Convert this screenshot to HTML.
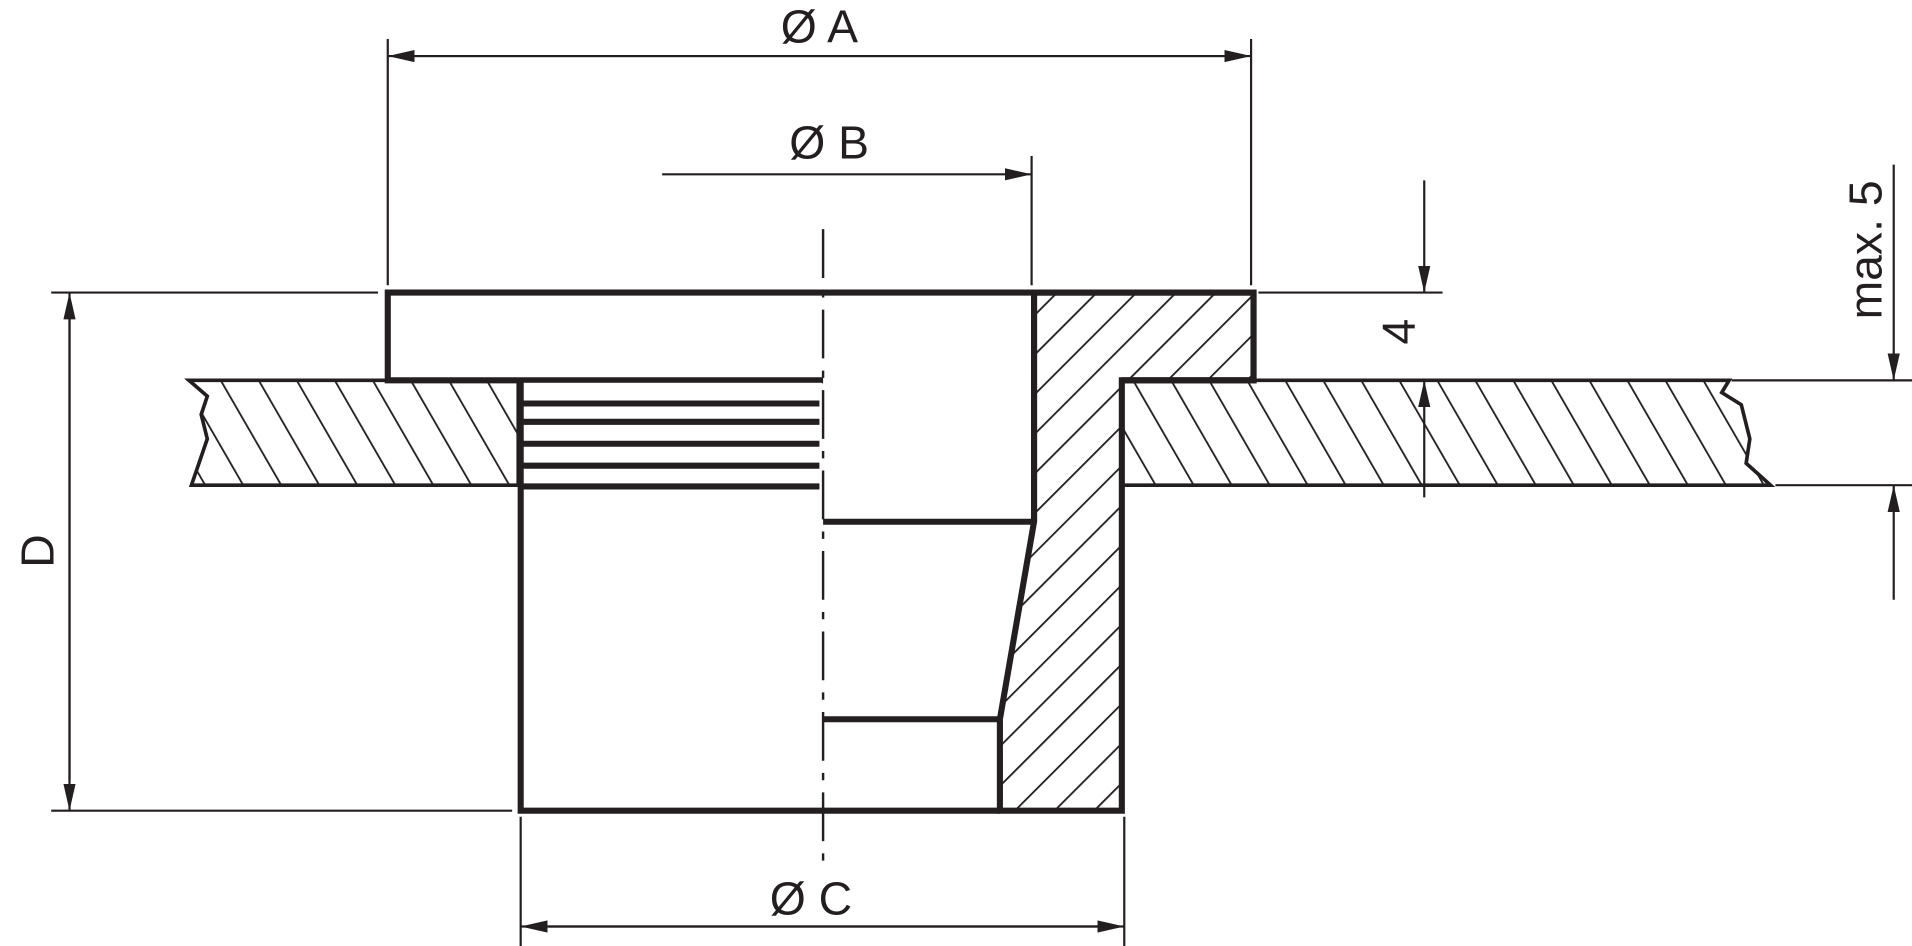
<!DOCTYPE html>
<html><head><meta charset="utf-8"><style>html,body{margin:0;padding:0;background:#fff}svg{display:block}</style></head>
<body>
<svg width="1912" height="946" viewBox="0 0 1568 776" preserveAspectRatio="none" xmlns="http://www.w3.org/2000/svg" font-family="'Liberation Sans',sans-serif">
<defs>
<pattern id="hb" patternUnits="userSpaceOnUse" width="27" height="27" patternTransform="rotate(-30)">
<line x1="0" y1="0" x2="0" y2="27" stroke="#231f20" stroke-width="3"/></pattern>
<pattern id="hf" patternUnits="userSpaceOnUse" width="23" height="23" patternTransform="rotate(45)">
<line x1="0" y1="0" x2="0" y2="23" stroke="#231f20" stroke-width="3"/></pattern>
<marker id="ar" markerWidth="22" markerHeight="10" refX="22" refY="5" orient="auto" markerUnits="userSpaceOnUse">
<path d="M0,0 L22,5 L0,10 Z" fill="#231f20"/></marker>
</defs>
<g stroke="#231f20" fill="none">
<path d="M155,312 L425,312 L425,398 L157,398 L170,360 L165,340 L170,325 Z" fill="url(#hb)" stroke-width="3"/>
<path d="M920,312 L1418,312 L1412,322 L1428,332 L1435,360 L1432,380 L1452,398 L920,398 Z" fill="url(#hb)" stroke-width="3"/>
<!-- wall -->
<path d="M848,240 L1028,240 L1028,312 L920,312 L920,665 L820,665 L820,590 L848,428 Z" fill="url(#hf)" stroke-width="5"/>
<!-- flange -->
<rect x="320" y="242" width="526" height="68" fill="#fff" stroke="none"/>
<path d="M675,312 L318,312 L318,240 L1028,240 L1028,312 L920,312" stroke-width="5"/>
<line x1="848" y1="240" x2="848" y2="428" stroke-width="5"/>
<!-- body -->
<rect x="429" y="314" width="245" height="84" fill="#fff" stroke="none"/>
<path d="M427,312 L427,665 L820,665" stroke-width="5"/>
<g stroke-width="5">
<line x1="427" y1="331" x2="672" y2="331"/>
<line x1="427" y1="346" x2="672" y2="346"/>
<line x1="427" y1="364" x2="672" y2="364"/>
<line x1="427" y1="382" x2="672" y2="382"/>
<line x1="427" y1="399" x2="672" y2="399"/>
<line x1="675" y1="428" x2="848" y2="428"/>
<line x1="675" y1="590" x2="820" y2="590"/>
</g>
<line x1="675" y1="188" x2="675" y2="710" stroke-width="2" stroke-dasharray="40,10,6,10"/>
<g stroke-width="1.8">
<line x1="318" y1="32" x2="318" y2="234"/>
<line x1="1026" y1="32" x2="1026" y2="234"/>
<line x1="1004" y1="46" x2="318" y2="46" marker-end="url(#ar)"/>
<line x1="340" y1="46" x2="1026" y2="46" marker-end="url(#ar)"/>
<line x1="846" y1="128" x2="846" y2="234"/>
<line x1="543" y1="143" x2="846" y2="143" marker-end="url(#ar)"/>
<line x1="427" y1="670" x2="427" y2="776"/>
<line x1="922" y1="670" x2="922" y2="776"/>
<line x1="900" y1="760" x2="427" y2="760" marker-end="url(#ar)"/>
<line x1="450" y1="760" x2="922" y2="760" marker-end="url(#ar)"/>
<line x1="42" y1="240" x2="310" y2="240"/>
<line x1="42" y1="665" x2="420" y2="665"/>
<line x1="57" y1="640" x2="57" y2="240" marker-end="url(#ar)"/>
<line x1="57" y1="262" x2="57" y2="665" marker-end="url(#ar)"/>
<line x1="1032" y1="240" x2="1183" y2="240"/>
<line x1="1168" y1="148" x2="1168" y2="240" marker-end="url(#ar)"/>
<line x1="1168" y1="408" x2="1168" y2="312" marker-end="url(#ar)"/>
<line x1="1420" y1="312" x2="1568" y2="312"/>
<line x1="1456" y1="398" x2="1568" y2="398"/>
<line x1="1553" y1="135" x2="1553" y2="312" marker-end="url(#ar)"/>
<line x1="1553" y1="492" x2="1553" y2="398" marker-end="url(#ar)"/>
</g>
</g>
<g fill="#231f20" font-size="38">
<text x="672" y="35" text-anchor="middle">Ø A</text>
<text x="680" y="130" text-anchor="middle">Ø B</text>
<text x="665" y="750" text-anchor="middle">Ø C</text>
<text transform="translate(44,452) rotate(-90)" text-anchor="middle">D</text>
<text transform="translate(1160,272) rotate(-90)" text-anchor="middle">4</text>
<text transform="translate(1543,205) rotate(-90)" text-anchor="middle">max. 5</text>
</g>
</svg>
</body></html>
